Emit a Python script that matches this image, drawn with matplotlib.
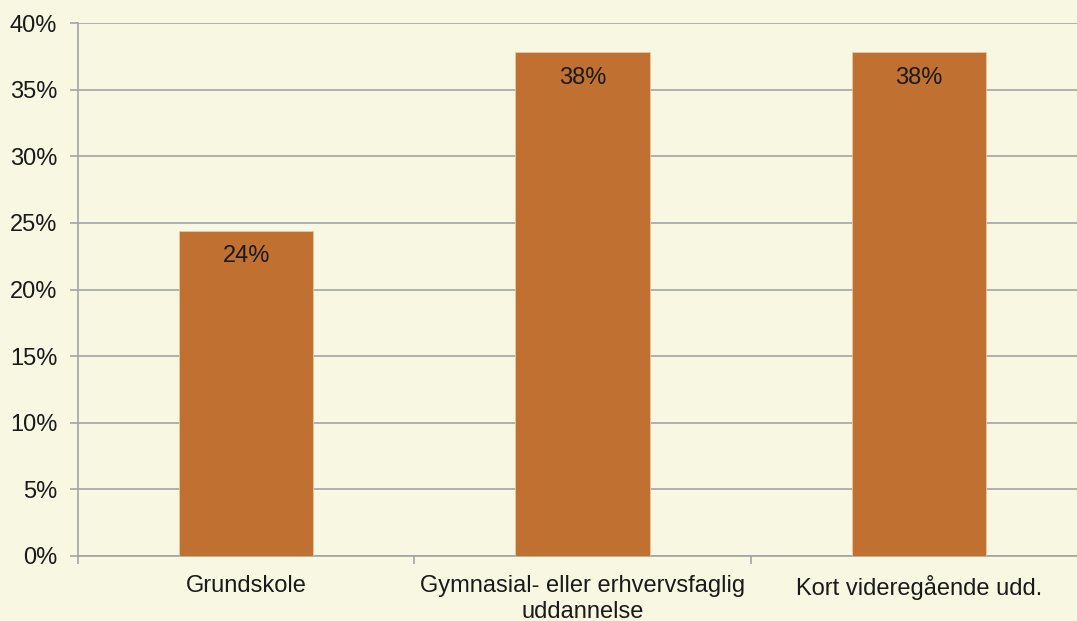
import matplotlib
matplotlib.use("Agg")
import matplotlib.pyplot as plt
from matplotlib.ticker import FixedLocator, PercentFormatter

categories = ["Grundskole", "Gymnasial- eller erhvervsfaglig\nuddannelse", "Kort videregående udd."]
values = [24.4, 37.8, 37.8]
labels = ["24%", "38%", "38%"]
yticks = [0, 5, 10, 15, 20, 25, 30, 35, 40]

bg = "#F8F7E1"
bar_color = "#C07031"
grid_color = "#A3A3A3"
fs = 17

plt.rcParams["font.family"] = ["Liberation Sans", "DejaVu Sans"]

fig = plt.figure(figsize=(10.77, 6.21), dpi=100, facecolor=bg)
ax = fig.add_axes([78/1077, 1-556/621, (1087-78)/1077, (556-23)/621])
ax.set_facecolor(bg)

x = list(range(len(categories)))
bars = ax.bar(x, values, width=0.4, color=bar_color, edgecolor="#E8C9A0", linewidth=0.6, zorder=3)
for xi, v, lab in zip(x, values, labels):
    ax.text(xi, v - 1.9, lab, ha="center", va="center", fontsize=fs, color="#1a1a1a", zorder=4)

ax.set_xlim(-0.5, len(categories) - 0.5)
ax.set_ylim(0, 40)
ax.set_yticks(yticks)
ax.yaxis.set_major_formatter(PercentFormatter(decimals=0))
ax.yaxis.grid(True, color=grid_color, linewidth=1.2, zorder=0)
ax.set_axisbelow(True)

ax.set_xticks(x)
ax.set_xticklabels(categories, fontsize=fs, color="#1a1a1a", linespacing=1.2)
ax.tick_params(axis="x", which="major", length=0, pad=14)
ax.xaxis.set_minor_locator(FixedLocator([-0.5, 0.5, 1.5, 2.5]))
ax.tick_params(axis="x", which="minor", length=6, width=1.2, color=grid_color)
ax.tick_params(axis="y", length=6, width=1.2, color=grid_color, labelsize=fs, labelcolor="#1a1a1a", pad=9)

for s in ["top", "right"]:
    ax.spines[s].set_visible(False)
for s in ["left", "bottom"]:
    ax.spines[s].set_color(grid_color)
    ax.spines[s].set_linewidth(1.2)

fig.savefig("out.png", dpi=100, facecolor=bg)
